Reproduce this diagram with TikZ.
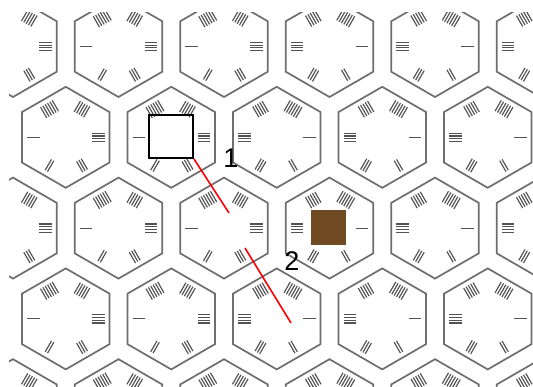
\documentclass[tikz,border=0pt]{standalone}
\usepackage{fontspec}
\setmainfont{Liberation Sans}
\begin{document}
\begin{tikzpicture}[x=1pt,y=-1pt,
  hexline/.style={draw=black!57, line width=1.7pt, line join=miter},
  markline/.style={draw=black!68, line width=1.15pt},
  selbox/.style={draw=black, line width=2pt, minimum width=44pt, minimum height=43pt, inner sep=0pt},
  tilebox/.style={draw=none, minimum size=35pt, inner sep=0pt},
  redline/.style={draw=red, line width=1.6pt},
  numlabel/.style={font=\fontsize{27}{30}\selectfont, inner sep=0pt}]
\definecolor{tilebrown}{HTML}{6F4A22}
\useasboundingbox (0,0) rectangle (533,386);
\fill[white] (0,0) rectangle (533,386);
\begin{scope}
\clip (9,12) rectangle (533,386);
\foreach \r in {0,...,4} {
  \pgfmathsetmacro\cy{46.5+90.8*\r}
  \pgfmathtruncatemacro\odd{mod(\r,2)}
  \foreach \k in {-1,...,5} {
    \pgfmathsetmacro\cx{13+52.75*\odd+105.5*\k}
    \pgfmathtruncatemacro\typeB{\cx>250 ? 1 : 0}
    \draw[hexline] (\cx,\cy) +(30:50.5) -- +(90:50.5) -- +(150:50.5) -- +(210:50.5) -- +(270:50.5) -- +(330:50.5) -- cycle;
    \foreach \m in {0,...,5} {
      \pgfmathsetmacro\th{60*\m}
      \pgfmathtruncatemacro\n{\typeB==1 ? \m+1 : mod(9-\m,6)+1}
      \foreach \i in {1,...,\n} {
        \pgfmathsetmacro\t{(\i-(\n+1)/2)*2.7}
        \draw[markline] (\cx,\cy) ++(\th:26.25) ++(\th+90:\t) -- ++(\th:12.5);
      }
    }
  }
}
\end{scope}
\node[selbox] (sel) at (171,136.5) {};
\node[tilebox, fill=tilebrown] (tile) at (328.5,227.5) {};
\coordinate (r1end) at (229,213);
\coordinate (r2start) at (245,248);
\coordinate (r2end) at (291,323);
\draw[redline] (sel.south east) -- (r1end);
\draw[redline] (r2start) -- (r2end);
\node[numlabel] (lab1) at (231,158) {1};
\node[numlabel] (lab2) at (292,261) {2};
\end{tikzpicture}
\end{document}
